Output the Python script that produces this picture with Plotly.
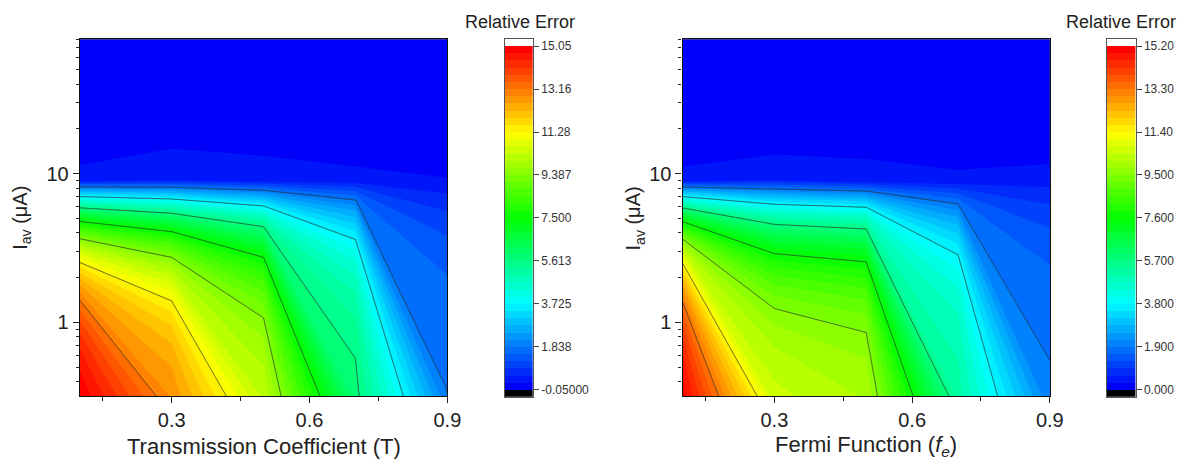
import math
import plotly.graph_objects as go

# ---------------- data ----------------
x_T = [0.1, 0.3, 0.5, 0.7, 0.9]          # Transmission coefficient
x_fe = [0.1, 0.3, 0.5, 0.7, 0.9]         # Fermi function
y_Iav = [0.32, 9.0, 15.0, 80.0]          # average current (uA)

err_T = [                                 # rows follow y_Iav, columns follow x_T
    [15.00, 12.79, 10.24, 5.77, 1.84],
    [0.37, 0.56, 0.39, 0.37, 0.28],
    [0.11, 0.25, 0.21, 0.08, 0.02],
    [0.00, 0.00, 0.00, 0.00, 0.00],
]
err_fe = [
    [15.08, 10.55, 10.10, 5.21, 1.94],
    [0.43, 0.62, 0.37, 0.36, 0.48],
    [0.11, 0.21, 0.28, 0.20, 0.10],
    [0.05, 0.05, 0.05, 0.05, 0.05],
]

range_T = (-0.05, 15.05)
range_fe = (0.0, 15.2)
cb_text_T = ["-0.05000", "1.838", "3.725", "5.613", "7.500", "9.387", "11.28", "13.16", "15.05"]
cb_text_fe = ["0.000", "1.900", "3.800", "5.700", "7.600", "9.500", "11.40", "13.30", "15.20"]

x_ticks = [0.3, 0.6, 0.9]
x_minor = [0.15, 0.45, 0.75]
y_ticks = [1, 10]
y_minor = [0.4, 0.5, 0.6, 0.7, 0.8, 0.9, 2, 3, 4, 5, 6, 7, 8, 9, 20, 30, 40, 50, 60, 70, 80]

N_MAJOR = 8
N_SUB = 6

W, H = 1193, 466
FONT = "Arial, Liberation Sans, sans-serif"

RAINBOW = [(0.0, (0, 0, 250)), (0.25, (0, 255, 255)), (0.5, (0, 255, 0)),
           (0.75, (255, 255, 0)), (1.0, (255, 0, 0))]


def make_scale(nc):
    cs = [[0.0, "rgb(0,0,0)"]]
    for f, c in RAINBOW:
        cs.append([(1 + (nc - 2) * f) / nc, "rgb(%d,%d,%d)" % c])
    cs.append([1.0, "rgb(255,255,255)"])
    return cs


def lerp(a, b, t):
    return a + (b - a) * t


def grid_table(xs, ys, zs, nx=40, px_per_decade=160, n_lev=500):
    """Table for the contour trace: Origin-style cell interpolation (edge crossings
    linear in the data values, straight segments inside each cell) sampled on a
    fine grid so that Plotly draws the same contour geometry on the log axis."""
    Ys = [math.log10(v) for v in ys]
    zall = [v for row in zs for v in row]
    lo, hi = min(zall), max(zall)
    levels = [lo + (hi - lo) * (k + 0.5) / n_lev for k in range(n_lev)]

    xf = []
    for i in range(len(xs) - 1):
        for k in range(nx):
            xf.append(lerp(xs[i], xs[i + 1], k / nx))
    xf.append(xs[-1])
    Yf, rowcell = [], []
    for r in range(len(ys) - 1):
        n = max(4, int((Ys[r + 1] - Ys[r]) * px_per_decade))
        for k in range(n):
            Yf.append(lerp(Ys[r], Ys[r + 1], k / n))
            rowcell.append(r)
    Yf.append(Ys[-1])
    rowcell.append(len(ys) - 2)

    zf = [[0.0] * len(xf) for _ in Yf]
    for ix, x in enumerate(xf):
        i = min(int(ix // nx), len(xs) - 2)
        xa, xb = xs[i], xs[i + 1]
        t = (x - xa) / (xb - xa)
        for r in range(len(ys) - 1):
            y0, y1 = ys[r], ys[r + 1]
            Y0, Y1 = Ys[r], Ys[r + 1]
            z00, z10, z01, z11 = zs[r][i], zs[r][i + 1], zs[r + 1][i], zs[r + 1][i + 1]
            pairs = [(Y0, lerp(z00, z10, t)), (Y1, lerp(z01, z11, t))]
            for L in levels:
                pts = []
                if (z00 > L) != (z01 > L):
                    f = (z00 - L) / (z00 - z01)
                    pts.append((xa, math.log10(lerp(y0, y1, f))))
                if (z10 > L) != (z11 > L):
                    f = (z10 - L) / (z10 - z11)
                    pts.append((xb, math.log10(lerp(y0, y1, f))))
                if (z00 > L) != (z10 > L):
                    f = (z00 - L) / (z00 - z10)
                    pts.append((lerp(xa, xb, f), Y0))
                if (z01 > L) != (z11 > L):
                    f = (z01 - L) / (z01 - z11)
                    pts.append((lerp(xa, xb, f), Y1))
                if len(pts) != 2:
                    continue
                (p1x, p1y), (p2x, p2y) = sorted(pts)
                if p2x - p1x < 1e-12 or x < p1x - 1e-12 or x > p2x + 1e-12:
                    continue
                pairs.append((lerp(p1y, p2y, (x - p1x) / (p2x - p1x)), L))
            pairs.sort()
            for iy, Y in enumerate(Yf):
                if rowcell[iy] != r and not (iy == len(Yf) - 1 and r == len(ys) - 2):
                    continue
                for k in range(len(pairs) - 1):
                    if pairs[k][0] <= Y <= pairs[k + 1][0]:
                        a, b = pairs[k], pairs[k + 1]
                        w = 0.0 if b[0] == a[0] else (Y - a[0]) / (b[0] - a[0])
                        zf[iy][ix] = lerp(a[1], b[1], w)
                        break
    return xf, [10 ** v for v in Yf], zf


fig = go.Figure()

panels = [
    dict(x=x_T, z=err_T, rng=range_T, cbt=cb_text_T, xa="x", ya="y", cxa="x3", cya="y3",
         dom=(80.7, 452.7), cbdom=(510.7, 539.3), title="Transmission Coefficient (T)",
         ytx=21, cbtitle_x=526),
    dict(x=x_fe, z=err_fe, rng=range_fe, cbt=cb_text_fe, xa="x2", ya="y2", cxa="x4", cya="y4",
         dom=(690.7, 1062.3), cbdom=(1120.0, 1149.0),
         title="Fermi Function (<i>f</i><sub><i>e</i></sub>)",
         ytx=642, cbtitle_x=1134),
]


def px_x(p):
    return p / W


def px_y(p):
    return 1 - p / H


ydom = [px_y(396.0), px_y(39.3)]
cbydom = [px_y(396.7), px_y(39.0)]

for i, p in enumerate(panels):
    s, e = p["rng"]
    major = (e - s) / N_MAJOR
    step = major / N_SUB
    nc = N_MAJOR * N_SUB + 1
    cs = make_scale(nc)
    xf, yf, zf = grid_table(p["x"], y_Iav, p["z"])

    fig.add_trace(go.Contour(
        x=xf, y=yf, z=zf, xaxis=p["xa"], yaxis=p["ya"],
        colorscale=cs, autocontour=False,
        contours=dict(start=s, end=e, size=step, coloring="fill", showlines=False),
        line=dict(width=0, smoothing=0), showscale=False, hoverinfo="skip"))
    fig.add_trace(go.Contour(
        x=xf, y=yf, z=zf, xaxis=p["xa"], yaxis=p["ya"],
        autocontour=False,
        contours=dict(start=s + major, end=e - major, size=major, coloring="none"),
        line=dict(color="rgba(45,45,45,0.85)", width=0.9, smoothing=0),
        showscale=False, hoverinfo="skip"))

    # colour bar drawn as a one-column heatmap of the fill levels
    edges = [s - step] + [s + k * step for k in range(nc)] + [e + step]
    centers = [s - step / 2] + [s + step / 2 + k * step for k in range(nc - 1)] + [e + step / 2]
    fig.add_trace(go.Heatmap(
        x=[0, 1], y=edges, z=[[v] for v in centers], zmin=s - step / 2, zmax=e + step / 2,
        colorscale=cs, showscale=False, xaxis=p["cxa"], yaxis=p["cya"], hoverinfo="skip"))

    n = "" if i == 0 else "2"
    cn = "3" if i == 0 else "4"
    fig.layout["xaxis" + n] = dict(
        domain=[px_x(p["dom"][0]), px_x(p["dom"][1])], anchor="y" + n, range=[0.1, 0.9],
        tickmode="array", tickvals=x_ticks, ticktext=["0.3", "0.6", "0.9"],
        ticks="outside", ticklen=6, tickwidth=1, tickcolor="#222",
        minor=dict(tickvals=x_minor, ticks="outside", ticklen=4, tickcolor="#222"),
        showline=True, linecolor="#111", linewidth=1.2, mirror=True, showgrid=False, zeroline=False,
        tickfont=dict(family=FONT, size=20, color="#222"))
    fig.layout["yaxis" + n] = dict(
        domain=ydom, anchor="x" + n, type="log", range=[-0.4949, 1.9031],
        tickmode="array", tickvals=y_ticks, ticktext=["1", "10"],
        ticks="outside", ticklen=6, tickwidth=1, tickcolor="#222",
        minor=dict(tickvals=y_minor, ticks="outside", ticklen=3, tickcolor="#222"),
        showline=True, linecolor="#111", linewidth=1.2, mirror=True, showgrid=False, zeroline=False,
        tickfont=dict(family=FONT, size=20, color="#222"))
    fig.layout["xaxis" + cn] = dict(
        domain=[px_x(p["cbdom"][0]), px_x(p["cbdom"][1])], anchor="y" + cn, range=[0, 1],
        showticklabels=False, ticks="", showline=True, mirror=True, linecolor="#555", linewidth=1,
        showgrid=False, zeroline=False)
    fig.layout["yaxis" + cn] = dict(
        domain=cbydom, anchor="x" + cn, side="right", range=[s - step, e + step],
        tickmode="array", tickvals=[s + k * major for k in range(N_MAJOR + 1)], ticktext=p["cbt"],
        ticks="outside", ticklen=5, tickcolor="#444", showline=True, mirror=True,
        linecolor="#555", linewidth=1, showgrid=False, zeroline=False,
        tickfont=dict(family=FONT, size=12, color="#333"))

    mid = (p["dom"][0] + p["dom"][1]) / 2
    fig.add_annotation(x=px_x(mid), y=px_y(446), xref="paper", yref="paper", text=p["title"],
                       showarrow=False, font=dict(family=FONT, size=22, color="#222"),
                       xanchor="center", yanchor="middle")
    fig.add_annotation(x=px_x(p["ytx"]), y=px_y(218), xref="paper", yref="paper",
                       text="I<sub>av</sub> (\u03bcA)", textangle=-90, showarrow=False,
                       font=dict(family=FONT, size=20, color="#222"),
                       xanchor="center", yanchor="middle")
    fig.add_annotation(x=px_x(p["cbtitle_x"]), y=px_y(22), xref="paper", yref="paper",
                       text="Relative Error", showarrow=False,
                       font=dict(family=FONT, size=18, color="#222"),
                       xanchor="center", yanchor="middle")

fig.update_layout(width=W, height=H, margin=dict(l=0, r=0, t=0, b=0),
                  paper_bgcolor="white", plot_bgcolor="white", showlegend=False)

fig.write_html("out.html", config={"displayModeBar": False},
               post_script="document.body.style.margin='0px';")
